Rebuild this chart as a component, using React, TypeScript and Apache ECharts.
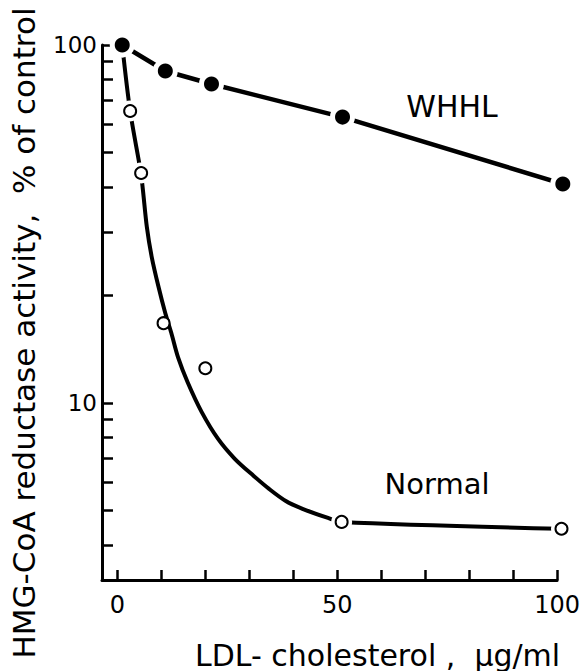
import { useEffect, useRef } from "react";
import * as echarts from "echarts";

// Axis ticks / labels
const xTickValues = [0, 10, 20, 30, 40, 50, 60, 70, 80, 90, 100];
const xLabelValues = [0, 50, 100];
const yTickValues = [4, 5, 6, 7, 8, 9, 10, 20, 30, 40, 50, 60, 70, 80, 90, 100];
const yLabelValues = [10, 100];

// WHHL (filled circles)
const whhlX = [1.1, 10.9, 21.4, 51.2, 101.3];
const whhlY = [100, 84.6, 77.8, 62.9, 40.9];

// Normal (open circles)
const normalX = [2.9, 5.4, 10.5, 20, 51, 101];
const normalY = [65.4, 43.9, 16.7, 12.5, 4.65, 4.45];

// Normal fitted curve
const normalFitX = [1.1, 2.9, 5.35, 5.8, 6.7, 7.8, 9.35, 10.9, 12.25, 13.8, 16.0, 19.15, 22.9, 26.7, 31.0, 34.5, 38.3, 42.1, 47.9, 51.0, 100.9];
const normalFitY = [100, 65.4, 43.9, 39.4, 31.0, 25.6, 21.1, 17.8, 15.7, 13.4, 11.4, 9.44, 7.93, 6.98, 6.25, 5.75, 5.32, 5.06, 4.77, 4.65, 4.45];

// Normal points that sit on the curve (get a white gap around them)
const normalOnCurve = [true, true, false, false, true, true];

const FONT = "DejaVu Sans";

export default function App() {
  const ref = useRef<HTMLDivElement>(null);
  useEffect(() => {
    document.body.style.margin = "0";
    if (!ref.current) return;
    const chart = echarts.init(ref.current, null, { renderer: "svg" });
    const whhl = whhlX.map((x, i) => [x, whhlY[i]]);
    const normal = normalX.map((x, i) => [x, normalY[i]]);
    const normalHalo = normal.filter((_, i) => normalOnCurve[i]);
    const fit = normalFitX.map((x, i) => [x, normalFitY[i]]);
    chart.setOption({
      animation: false,
      backgroundColor: "#fff",
      grid: { left: 102, right: 16, top: 45, bottom: 91 },
      xAxis: {
        type: "value",
        min: -3.5,
        max: 100,
        axisLine: { show: true, onZero: false, lineStyle: { color: "#000", width: 3 } },
        axisTick: { show: true, inside: true, length: 10, customValues: xTickValues, lineStyle: { color: "#000", width: 2.5 } },
        axisLabel: { customValues: xLabelValues, margin: 13, color: "#000", fontFamily: FONT, fontSize: 24, formatter: (v: number) => String(v) },
        splitLine: { show: false },
      },
      yAxis: {
        type: "log",
        logBase: 10,
        min: 3.2,
        max: 100,
        axisLine: { show: true, onZero: false, lineStyle: { color: "#000", width: 3 } },
        axisTick: { show: true, inside: true, length: 11, customValues: yTickValues, lineStyle: { color: "#000", width: 2.5 } },
        axisLabel: { customValues: yLabelValues, margin: 5, color: "#000", fontFamily: FONT, fontSize: 23, formatter: (v: number) => String(Math.round(v)) },
        splitLine: { show: false },
        minorTick: { show: false },
      },
      series: [
        {
          type: "line",
          data: fit,
          smooth: 0.3,
          symbol: "none",
          clip: false,
          silent: true,
          lineStyle: { color: "#000", width: 4 },
          z: 2,
        },
        {
          type: "scatter",
          data: normalHalo,
          symbol: "circle",
          symbolSize: 21,
          clip: false,
          silent: true,
          itemStyle: { color: "#fff", opacity: 1 },
          z: 5,
        },
        {
          type: "scatter",
          data: normal,
          symbol: "circle",
          symbolSize: 12,
          clip: false,
          silent: true,
          itemStyle: { color: "#fff", borderColor: "#000", borderWidth: 2, opacity: 1 },
          z: 6,
        },
        {
          type: "line",
          data: whhl,
          symbol: "circle",
          symbolSize: 20,
          showSymbol: true,
          showAllSymbol: true,
          clip: false,
          silent: true,
          lineStyle: { color: "#000", width: 4.5 },
          itemStyle: { color: "#000", borderColor: "#fff", borderWidth: 5, opacity: 1 },
          z: 7,
        },
      ],
      graphic: [
        {
          type: "text",
          x: 24,
          y: 333,
          rotation: Math.PI / 2,
          style: {
            text: "HMG-CoA reductase activity,  % of control",
            fontFamily: FONT,
            fontSize: 31,
            fill: "#000",
            align: "center",
            verticalAlign: "middle",
          },
        },
        {
          type: "text",
          x: 195,
          y: 655,
          style: {
            text: "LDL- cholesterol ,  µg/ml",
            fontFamily: FONT,
            fontSize: 30,
            fill: "#000",
            align: "left",
            verticalAlign: "middle",
          },
        },
        {
          type: "text",
          x: 452,
          y: 106,
          style: { text: "WHHL", fontFamily: FONT, fontSize: 30, fill: "#000", align: "center", verticalAlign: "middle" },
        },
        {
          type: "text",
          x: 437,
          y: 484,
          style: { text: "Normal", fontFamily: FONT, fontSize: 29, fill: "#000", align: "center", verticalAlign: "middle" },
        },
      ],
    });
    return () => chart.dispose();
  }, []);
  return <div ref={ref} style={{ position: "fixed", left: 0, top: 0, width: 583, height: 671 }} />;
}
